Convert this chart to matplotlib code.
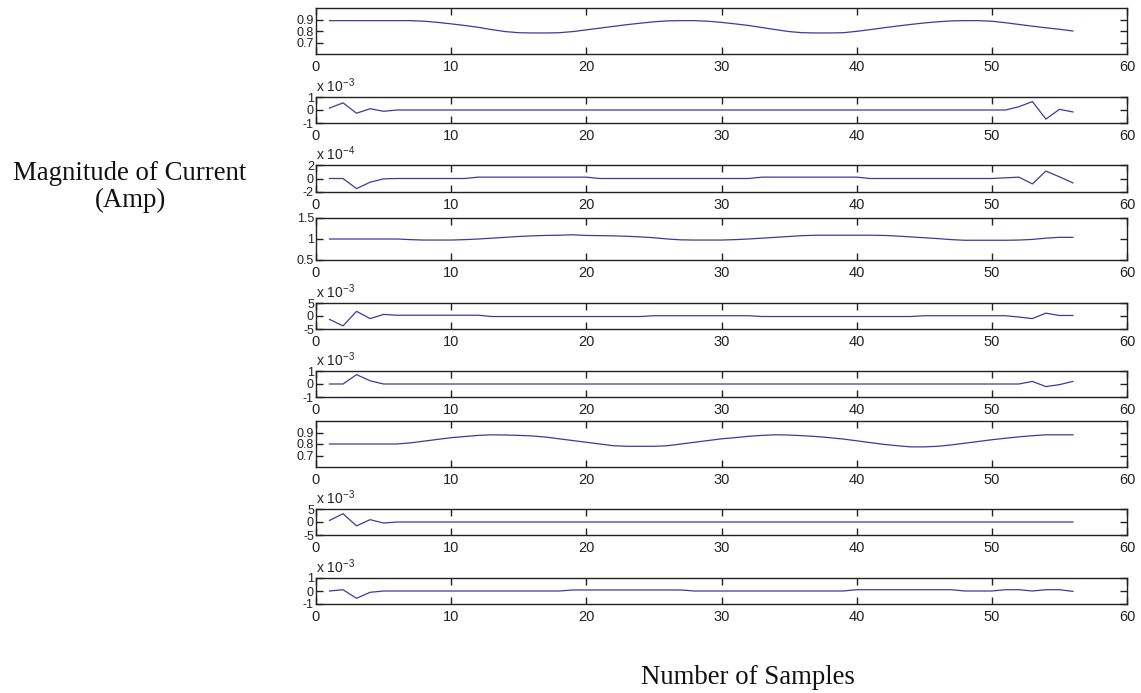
import numpy as np
import matplotlib
matplotlib.use('Agg')
import matplotlib.pyplot as plt

plt.rcParams['font.family'] = ['Liberation Sans']

W, H = 1141, 693

samples = list(range(1, 57))

# panel 1 - magnitude (Amp)
mag_a = [0.89, 0.89, 0.89, 0.89, 0.89, 0.89, 0.89, 0.885, 0.875, 0.862,
         0.848, 0.832, 0.812, 0.795, 0.785, 0.783, 0.783, 0.785, 0.795, 0.81,
         0.825, 0.84, 0.855, 0.868, 0.88, 0.888, 0.89, 0.89, 0.885, 0.875,
         0.862, 0.848, 0.83, 0.812, 0.795, 0.785, 0.783, 0.783, 0.785, 0.797,
         0.812, 0.828, 0.843, 0.857, 0.87, 0.88, 0.888, 0.89, 0.89, 0.885,
         0.872, 0.857, 0.842, 0.828, 0.815, 0.8]
# panel 2 (x1e-3)
comp_a1 = [0.15, 0.55, -0.25, 0.1, -0.1] + [0.0] * 46 + [0.25, 0.65, -0.7, 0.05, -0.15]
# panel 3 (x1e-4)
comp_a2 = ([0.0, 0.0, -1.5, -0.55, -0.05] + [0.0] * 6 + [0.2] * 9 + [0.0] * 12
           + [0.2] * 8 + [0.0] * 10 + [0.1, 0.2, -0.8, 1.1, 0.25, -0.65])
# panel 4 - magnitude (Amp)
mag_b = [1.0, 1.0, 1.0, 1.0, 1.0, 1.0, 0.985, 0.975, 0.975, 0.975,
         0.985, 1.0, 1.02, 1.04, 1.06, 1.075, 1.085, 1.09, 1.1, 1.085,
         1.08, 1.075, 1.065, 1.05, 1.03, 1.0, 0.98, 0.975, 0.975, 0.975,
         0.985, 1.0, 1.02, 1.04, 1.06, 1.08, 1.09, 1.09, 1.09, 1.09,
         1.09, 1.085, 1.07, 1.05, 1.03, 1.01, 0.985, 0.97, 0.97, 0.97,
         0.97, 0.975, 0.99, 1.02, 1.04, 1.04]
# panel 5 (x1e-3)
comp_b1 = ([-1.3, -3.8, 1.8, -1.0, 0.6] + [0.3] * 7 + [-0.2] * 12 + [0.1] * 8
           + [-0.2] * 12 + [0.1] * 7 + [-0.4, -1.0, 1.1, 0.2, 0.2])
# panel 6 (x1e-3)
comp_b2 = [0.0, 0.0, 0.72, 0.25, 0.0] + [0.0] * 47 + [0.2, -0.2, -0.05, 0.2]
# panel 7 - magnitude (Amp)
mag_c = [0.8, 0.8, 0.8, 0.8, 0.8, 0.8, 0.81, 0.825, 0.84, 0.855,
         0.865, 0.875, 0.88, 0.878, 0.875, 0.87, 0.86, 0.845, 0.83, 0.815,
         0.8, 0.785, 0.78, 0.78, 0.78, 0.785, 0.8, 0.815, 0.83, 0.845,
         0.855, 0.867, 0.875, 0.88, 0.878, 0.872, 0.865, 0.855, 0.843, 0.828,
         0.812, 0.797, 0.785, 0.775, 0.775, 0.78, 0.792, 0.807, 0.822, 0.837,
         0.85, 0.862, 0.872, 0.88, 0.88, 0.88]
# panel 8 (x1e-3)
comp_c1 = [0.6, 3.2, -1.5, 0.9, -0.4] + [0.0] * 51
# panel 9 (x1e-3)
comp_c2 = ([0.0, 0.1, -0.56, -0.1, 0.0] + [0.0] * 13 + [0.08] * 9 + [0.0] * 12
           + [0.1] * 8 + [0.0] * 3 + [0.1, 0.1, 0.0, 0.1, 0.1, -0.03])

series = [mag_a, comp_a1, comp_a2, mag_b, comp_b1, comp_b2, mag_c, comp_c1, comp_c2]
exps = [None, '-3', '-4', None, '-3', '-3', None, '-3', '-3']
ylims = [(0.6, 1.0), (-1, 1), (-2, 2), (0.5, 1.5), (-5, 5), (-1, 1), (0.6, 1.0), (-5, 5), (-1, 1)]
yticks = [[0.7, 0.8, 0.9], [-1, 0, 1], [-2, 0, 2], [0.5, 1, 1.5], [-5, 0, 5],
          [-1, 0, 1], [0.7, 0.8, 0.9], [-5, 0, 5], [-1, 0, 1]]
xticks = [0, 10, 20, 30, 40, 50, 60]

# pixel boxes (top, bottom)
boxes = [(8, 54), (97, 123), (165, 192), (218, 260), (303, 329),
         (371, 397), (421, 467), (509, 535), (578, 604)]
x0, x1 = 316, 1127

fig = plt.figure(figsize=(W / 100, H / 100), dpi=100)

for i, (top, bot) in enumerate(boxes):
    ax = fig.add_axes([x0 / W, 1 - bot / H, (x1 - x0) / W, (bot - top) / H])
    ax.plot(samples, series[i], color='#3b3b9c', linewidth=0.9)
    ax.set_xlim(0, 60)
    ax.set_ylim(ylims[i])
    ax.set_xticks(xticks)
    ax.set_yticks(yticks[i])
    ax.set_yticklabels(['{:g}'.format(v) for v in yticks[i]])
    ax.tick_params(direction='in', length=5, width=1, top=True, right=True,
                   color='#222222', labelcolor='#222222')
    ax.tick_params(axis='y', pad=1.5, labelsize=9)
    ax.tick_params(axis='x', pad=4.5, labelsize=10.5)
    for s in ax.spines.values():
        s.set_linewidth(1.0)
        s.set_color('#222222')
    if exps[i]:
        ax.text(0.0, 1.06, r'x 10$^{\mathregular{' + exps[i] + '}}$',
                transform=ax.transAxes, ha='left', va='bottom', fontsize=10,
                color='#222222')

fig.text(130 / W, 1 - 187 / H, 'Magnitude of Current\n(Amp)', ha='center', va='center',
         family='Liberation Serif', fontsize=19.3, linespacing=1.1, color='#111111')
fig.text(748 / W, 1 - 677 / H, 'Number of Samples', ha='center', va='center',
         family='Liberation Serif', fontsize=19.3, color='#111111')

fig.savefig('out.png', dpi=100)
